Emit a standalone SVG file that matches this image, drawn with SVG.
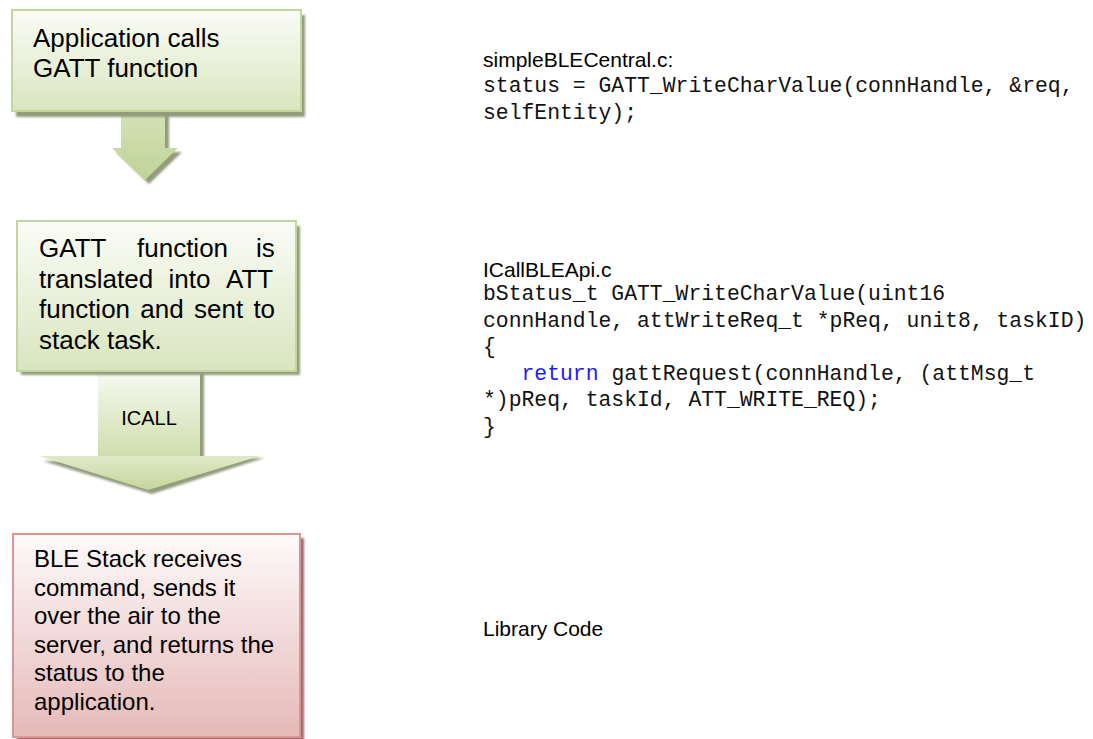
<svg xmlns="http://www.w3.org/2000/svg" width="1093" height="739" viewBox="0 0 1093 739">
<defs>
<linearGradient id="gGreen" x1="0" y1="0" x2="0" y2="1">
<stop offset="0" stop-color="#fbfcf7"/>
<stop offset="1" stop-color="#d9e5bf"/>
</linearGradient>
<linearGradient id="gRed" x1="0" y1="0" x2="0" y2="1">
<stop offset="0" stop-color="#fefafa"/>
<stop offset="1" stop-color="#e5b9b8"/>
</linearGradient>
<linearGradient id="gShaft" x1="0" y1="0" x2="0" y2="1">
<stop offset="0" stop-color="#f8faf2"/>
<stop offset="1" stop-color="#cfdeac"/>
</linearGradient>
<linearGradient id="gHead" x1="0" y1="0" x2="0" y2="1">
<stop offset="0" stop-color="#dfe9c8"/>
<stop offset="1" stop-color="#c3d69b"/>
</linearGradient>
<linearGradient id="gArrow1" x1="0" y1="0" x2="0" y2="1">
<stop offset="0" stop-color="#d4e2b6"/>
<stop offset="1" stop-color="#bfd397"/>
</linearGradient>
<filter id="soft" x="-5%" y="-5%" width="110%" height="110%">
<feGaussianBlur stdDeviation="0.8"/>
</filter>
</defs>
<style>
.t{font-family:"Liberation Sans",Arial,sans-serif;fill:#000}
.big{font-size:26px}
.mid{font-size:24px}
.lbl{font-size:21px}
.code{font-family:"Courier New","Liberation Mono",monospace;font-size:21.4px;fill:#111}
.kw{fill:#1a1aff}
.gshadow{fill:#929c7c}
.rshadow{fill:#a0696a}
</style>

<g id="connectors">
<g id="arrow-1">
<path class="gshadow" filter="url(#soft)" d="M125,112 H169 V152 H182 L149,184 L116,152 H125 Z"/>
<path fill="url(#gArrow1)" d="M121,111 H165 V148 H178 L145,180 L112,148 H121 Z"/>
</g>
<g id="arrow-icall">
<path class="gshadow" filter="url(#soft)" d="M102,373 H204 V458 H264 L152,494 L43,461 H102 Z"/>
<rect x="98" y="370" width="102" height="86" fill="url(#gShaft)"/>
<path fill="url(#gHead)" d="M39,456 H260 L148,490 Z"/>
<text class="t" x="149" y="425" text-anchor="middle" style="font-size:20px">ICALL</text>
</g>
</g>

<g id="node-app">
<rect class="gshadow" filter="url(#soft)" x="16" y="15" width="289" height="102"/>
<rect x="12" y="10" width="289" height="101" fill="url(#gGreen)" stroke="#c3d69b" stroke-width="2"/>
<text class="t big" x="33" y="47">Application calls</text>
<text class="t big" x="33" y="77">GATT function</text>
</g>

<g id="node-gatt">
<rect class="gshadow" filter="url(#soft)" x="21" y="226" width="279" height="149"/>
<rect x="17" y="221" width="279" height="150" fill="url(#gGreen)" stroke="#c3d69b" stroke-width="2"/>
<text class="t big" y="257"><tspan x="39">GATT</tspan><tspan x="137">function</tspan><tspan x="256">is</tspan></text>
<text class="t big" y="287.5"><tspan x="39">translated</tspan><tspan x="168.6">into</tspan><tspan x="226">ATT</tspan></text>
<text class="t big" y="318"><tspan x="39">function</tspan><tspan x="140.3">and</tspan><tspan x="194">sent</tspan><tspan x="253.4">to</tspan></text>
<text class="t big" x="39" y="348.5">stack task.</text>
</g>

<g id="node-stack">
<rect class="rshadow" filter="url(#soft)" x="17" y="538" width="287" height="204"/>
<rect x="13" y="534" width="287" height="203" fill="url(#gRed)" stroke="#d99694" stroke-width="2"/>
<text class="t mid" x="34" y="567">BLE Stack receives</text>
<text class="t mid" x="34" y="595.5">command, sends it</text>
<text class="t mid" x="34" y="624">over the air to the</text>
<text class="t mid" x="34" y="652.5">server, and returns the</text>
<text class="t mid" x="34" y="681">status to the</text>
<text class="t mid" x="34" y="709.5">application.</text>
</g>

<g id="code-app">
<text class="t lbl" x="483" y="67">simpleBLECentral.c:</text>
<text class="code" x="483" y="92" xml:space="preserve">status = GATT_WriteCharValue(connHandle, &amp;req,</text>
<text class="code" x="483" y="119">selfEntity);</text>
</g>

<g id="code-icall">
<text class="t lbl" x="483" y="277">ICallBLEApi.c</text>
<text class="code" x="483" y="300">bStatus_t GATT_WriteCharValue(uint16</text>
<text class="code" x="483" y="326.5">connHandle, attWriteReq_t *pReq, unit8, taskID)</text>
<text class="code" x="483" y="353">{</text>
<text class="code" x="483" y="379.5" xml:space="preserve">   <tspan class="kw">return</tspan> gattRequest(connHandle, (attMsg_t</text>
<text class="code" x="483" y="406">*)pReq, taskId, ATT_WRITE_REQ);</text>
<text class="code" x="483" y="432.5">}</text>
</g>

<g id="code-lib">
<text class="t lbl" x="483" y="636">Library Code</text>
</g>
</svg>
